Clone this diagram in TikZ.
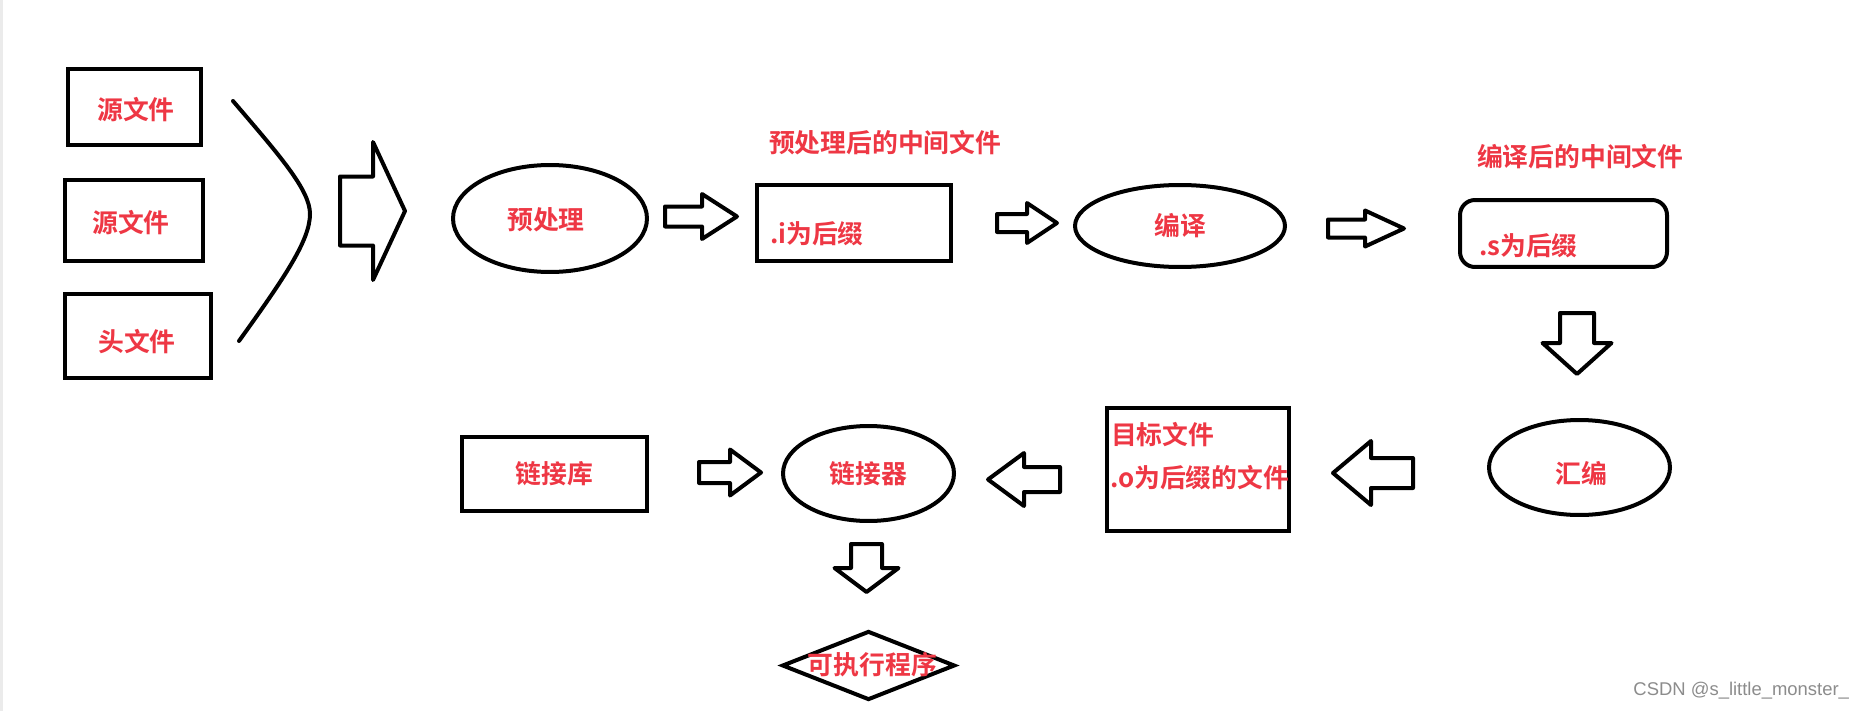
\documentclass[tikz,border=0pt]{standalone}
\usepackage{fontspec}
\usetikzlibrary{shapes.geometric}
\newfontfamily\cjk{Noto Sans CJK SC}[BoldFont={Noto Sans CJK SC Bold}]
\newfontfamily\wmfont{Liberation Sans}
\definecolor{txtred}{RGB}{238,55,68}
\def\blockarrow[#1](#2)(#3:#4:#5:#6){\begin{scope}[shift={(#2)},rotate=#1]\draw[hollow] (0,-#5) -- (#3,-#5) -- (#3,-#6) -- (#4,0) -- (#3,#6) -- (#3,#5) -- (0,#5) -- cycle;\end{scope}}

\begin{document}
\begin{tikzpicture}[x=0.02cm, y=-0.02cm, line width=0.08cm,
		box/.style={draw, rectangle, inner sep=0pt},
		oval/.style={draw, ellipse, inner sep=0pt},
		lbl/.style={text=txtred, inner sep=0pt, font=\cjk\bfseries\fontsize{14.7pt}{17pt}\selectfont},
		hollow/.style={draw, line join=round}]
			%%%%% START %%%%%
			
			\fill[white] (0,0) rectangle (1866,710.6);
			\useasboundingbox (0,0) rectangle (1866,710.6);
			\fill[black!8] (0,0) rectangle (3,710.6);
			
			\node[box, minimum width=2.66cm, minimum height=1.52cm] (src1) at (134.5,107) {};
			\node[lbl] (src1text) at (136,110) {源文件};
			\node[box, minimum width=2.76cm, minimum height=1.62cm] (src2) at (134,220.5) {};
			\node[lbl] (src2text) at (131,223) {源文件};
			\node[box, minimum width=2.92cm, minimum height=1.68cm] (hdr) at (138,336) {};
			\node[lbl] (hdrtext) at (137,342) {头文件};
			
			\draw[line cap=round] (233,101) .. controls (280,156) and (310,190) .. (310,214) .. controls (310,240) and (285,277) .. (239,341);
			\blockarrow[0](340,211)(33:65:34.5:69);
			
			\node[oval, minimum width=3.88cm, minimum height=2.14cm] (pre) at (550,218.5) {};
			\node[lbl] (pretext) at (546,220) {预处理};
			\blockarrow[0](665,216.5)(37:72:10:22.5);
			
			\node[lbl, anchor=west] (pretitle) at (767,143) {预处理后的中间文件};
			\node[box, minimum width=3.88cm, minimum height=1.52cm] (ifile) at (854,223) {};
			\node[lbl, anchor=west] (itext) at (768,234) {.i为后缀};
			\blockarrow[0](997,223)(30:60:9:20);
			
			\node[oval, lbl, minimum width=4.20cm, minimum height=1.64cm] (comp) at (1180,226) {编译};
			\blockarrow[0](1328,228.5)(37:76:9:18);
			
			\node[lbl, anchor=west] (comptitle) at (1475,157) {编译后的中间文件};
			\node[box, rounded corners=0.3cm, minimum width=4.14cm, minimum height=1.34cm] (sfile) at (1563.5,233.5) {};
			\node[lbl, anchor=west] (stext) at (1477,246) {.s为后缀};
			\blockarrow[-90](1577,313)(30:61:17:34.5);
			
			\node[oval, minimum width=3.62cm, minimum height=1.90cm] (asm) at (1579.5,467.5) {};
			\node[lbl] (asmtext) at (1581,473) {汇编};
			\blockarrow[180](1413,473)(42:80:15:32);
			
			\node[box, minimum width=3.64cm, minimum height=2.46cm] (obj) at (1198,469.5) {};
			\node[lbl, anchor=west] (objname) at (1109,435) {目标文件};
			\node[lbl, anchor=west] (objext) at (1108,478) {.o为后缀的文件};
			\blockarrow[180](1060,479.5)(36:72:12.5:26.5);
			
			\node[oval, lbl, minimum width=3.42cm, minimum height=1.90cm] (link) at (868.5,473.5) {链接器};
			\node[box, lbl, minimum width=3.70cm, minimum height=1.48cm] (lib) at (554.5,474) {链接库};
			\blockarrow[0](699,472.5)(31:62:10.5:23);
			\blockarrow[-90](866.5,544)(24:48:15.5:32);
			
			\node[draw, diamond, inner sep=0pt, minimum width=3.46cm, minimum height=1.38cm] (exe) at (868.5,665.5) {};
			\node[lbl] (exetext) at (872.5,665) {可执行程序};
			
			\node[anchor=east, inner sep=0pt, text=black!45, font=\wmfont\fontsize{10.5pt}{12pt}\selectfont] (mark) at (1851,691) {CSDN @s\_little\_monster\_};
			
			%%%%% END %%%%%
		\end{tikzpicture}
\end{document}
